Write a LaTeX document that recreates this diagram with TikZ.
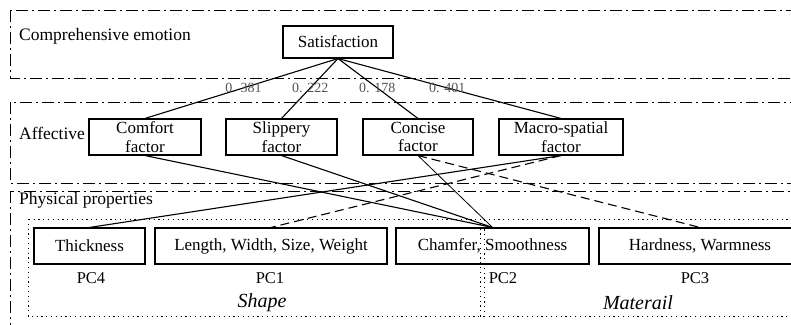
\documentclass[tikz,border=0pt]{standalone}
\usepackage{fontspec}
\setmainfont{Liberation Serif}
\usepackage{xcolor}
\definecolor{weightgray}{RGB}{85,85,85}

\begin{document}
\begin{tikzpicture}[x=1pt,y=-1pt,
  factor/.style={draw,line width=1.1pt,inner sep=0pt,minimum height=36pt,align=center,font=\fontsize{17}{18.5}\selectfont},
  layerbox/.style={line width=0.9pt,dash pattern=on 12pt off 4pt on 2pt off 4pt},
  groupbox/.style={line width=0.9pt,dash pattern=on 1.2pt off 3.6pt},
  title/.style={anchor=west,inner sep=0pt,font=\fontsize{17.5}{19}\selectfont},
  pctag/.style={inner sep=0pt,font=\fontsize{16.5}{18}\selectfont},
  grouptitle/.style={inner sep=0pt,font=\fontsize{20}{22}\selectfont\itshape},
  weight/.style={inner sep=1pt,text=weightgray,font=\fontsize{14}{15}\selectfont},
  link/.style={line width=1.1pt},
  dashlink/.style={line width=1.1pt,dash pattern=on 9pt off 5pt}]
\useasboundingbox (0,0) rectangle (791,324);
\clip (0,0) rectangle (791,324);
%%%LAYERS
\draw[layerbox] (10,10) rectangle (820,78);
\draw[layerbox] (10,102) rectangle (820,183);
\draw[layerbox] (10,191) rectangle (820,340);
\draw[groupbox] (28,219) rectangle (484,316);
\draw[groupbox] (480,219) rectangle (820,316);
\node[title] (comptitle) at (19,36) {Comprehensive emotion};
\node[title] (afftitle) at (19,133) {Affective};
\node[title] (phystitle) at (19,200) {Physical properties};
%%%FACTORS
\node[factor,minimum width=110pt,minimum height=32pt] (sat) at (338,42) {Satisfaction};
\node[factor,minimum width=112pt] (comfort) at (145,137) {Comfort\\factor};
\node[factor,minimum width=111pt] (slippery) at (281.5,137) {Slippery\\factor};
\node[factor,minimum width=110pt] (concise) at (418,137) {Concise\\factor};
\node[factor,minimum width=124pt] (macro) at (561,137) {Macro-spatial\\factor};
%%%PROPERTIES
\node[factor,minimum width=111pt] (thick) at (89.5,246) {Thickness};
\node[factor,minimum width=232pt] (length) at (271,246) {Length, Width, Size, Weight};
\node[factor,minimum width=193pt] (chamfer) at (492.5,246) {Chamfer, Smoothness};
\node[factor,minimum width=202pt] (hardness) at (700,246) {Hardness, Warmness};
\node[pctag] (pc4) at (91,278) {PC4};
\node[pctag] (pc1) at (270,278) {PC1};
\node[pctag] (pc2) at (503,278) {PC2};
\node[pctag] (pc3) at (695,278) {PC3};
\node[grouptitle] (shapetitle) at (262,303) {Shape};
\node[grouptitle] (mattitle) at (638,303) {Materail};
%%%WEIGHTS
\draw[link] (sat.south) -- node[weight,pos=0.49] {0. 381} (comfort.north);
\draw[link] (sat.south) -- node[weight,pos=0.49] {0. 222} (slippery.north);
\draw[link] (sat.south) -- node[weight,pos=0.49] {0. 178} (concise.north);
\draw[link] (sat.south) -- node[weight,pos=0.49] {0. 401} (macro.north);
%%%LINKS
\draw[link] (comfort.south) -- (chamfer.north);
\draw[link] (slippery.south) -- (chamfer.north);
\draw[link,line width=0.8pt] (concise.south) -- (chamfer.north);
\draw[dashlink] (concise.south) -- (hardness.north);
\draw[link] (macro.south) -- (thick.north);
\draw[dashlink] (macro.south) -- (length.north);
\end{tikzpicture}
\end{document}
